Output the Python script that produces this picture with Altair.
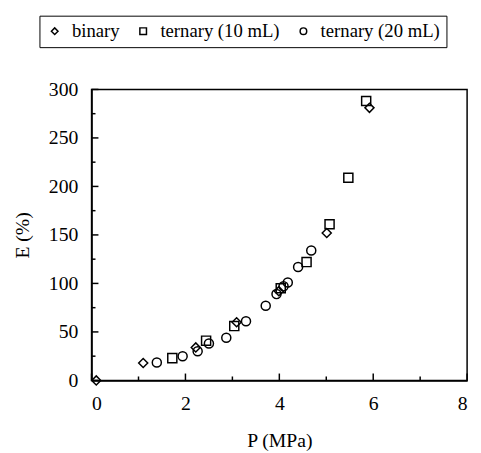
import altair as alt
import pandas as pd

series = ["binary", "ternary (10 mL)", "ternary (20 mL)"]
shapes = ["diamond", "square", "circle"]

binary_p = [0.1, 1.1, 2.22, 3.09, 3.99, 5.01, 5.92]
binary_e = [0, 18, 34, 60, 92, 152, 281]

t10_p = [1.72, 2.44, 3.04, 4.03, 4.58, 5.07, 5.47, 5.85]
t10_e = [23, 41, 56, 95, 122, 161, 209, 288]

t20_p = [1.39, 1.94, 2.26, 2.5, 2.87, 3.29, 3.71, 3.94, 4.09, 4.18, 4.4, 4.68]
t20_e = [18.5, 25, 30, 38, 44, 61, 77, 89, 97, 101, 117, 134]

x_major = [0, 2, 4, 6, 8]
x_minor = [1, 3, 5, 7]
y_major = [0, 50, 100, 150, 200, 250, 300]
y_minor = [25, 75, 125, 175, 225, 275]

rows = []
for name, ps, es in [(series[0], binary_p, binary_e), (series[1], t10_p, t10_e), (series[2], t20_p, t20_e)]:
    for p, e in zip(ps, es):
        rows.append({"P": p, "E": e, "series": name})
df = pd.DataFrame(rows)

FONT = "Liberation Serif, Times New Roman, serif"
H = 296
xscale = alt.Scale(domain=[0, 8], nice=False, zero=False)
yscale = alt.Scale(domain=[0, 300], nice=False)

points = alt.Chart(df).mark_point(
    filled=False, color="black", strokeWidth=1.5, size=85, opacity=1
).encode(
    x=alt.X(
        "P:Q", scale=xscale,
        axis=alt.Axis(
            values=x_major, ticks=False, labelPadding=14,
            title="P (MPa)", titleX=191, titleY=51,
        ),
    ),
    y=alt.Y(
        "E:Q", scale=yscale,
        axis=alt.Axis(
            values=y_major, ticks=False, labelPadding=14,
            title="E (%)", titleX=-60, titleY=148,
        ),
    ),
    shape=alt.Shape(
        "series:N",
        scale=alt.Scale(domain=series, range=shapes),
        legend=alt.Legend(
            orient="none", legendX=-53, legendY=-75, direction="horizontal",
            title=None, strokeColor="black", padding=6,
            labelFont=FONT, labelFontSize=19, labelColor="black", labelLimit=300,
            symbolSize=45, symbolStrokeWidth=1.5, symbolStrokeColor="black",
            labelOffset=8, columnPadding=14,
        ),
    ),
)

x_major_ticks = alt.Chart(pd.DataFrame({"v": x_major})).mark_rule(color="black", strokeWidth=1.5).encode(
    x=alt.X("v:Q", scale=xscale), y=alt.value(H), y2=alt.value(H - 7))
x_minor_ticks = alt.Chart(pd.DataFrame({"v": x_minor})).mark_rule(color="black", strokeWidth=1.5).encode(
    x=alt.X("v:Q", scale=xscale), y=alt.value(H), y2=alt.value(H - 4))
y_major_ticks = alt.Chart(pd.DataFrame({"v": y_major})).mark_rule(color="black", strokeWidth=1.5).encode(
    y=alt.Y("v:Q", scale=yscale), x=alt.value(0), x2=alt.value(7))
y_minor_ticks = alt.Chart(pd.DataFrame({"v": y_minor})).mark_rule(color="black", strokeWidth=1.5).encode(
    y=alt.Y("v:Q", scale=yscale), x=alt.value(0), x2=alt.value(4))

chart = alt.layer(
    x_major_ticks, x_minor_ticks, y_major_ticks, y_minor_ticks, points
).properties(
    width=382,
    height=H,
    autosize=alt.AutoSizeParams(type="none"),
    padding={"left": 85, "top": 79, "right": 6, "bottom": 70},
).configure(
    font=FONT
).configure_view(
    stroke="black", strokeWidth=1.5
).configure_axis(
    grid=False,
    domainColor="black",
    domainWidth=1.5,
    labelFont=FONT,
    labelFontSize=20,
    labelColor="black",
    titleFont=FONT,
    titleFontSize=20,
    titleFontWeight="normal",
    titleColor="black",
)

chart.save("out.html", embed_options={"renderer": "svg", "actions": False})
